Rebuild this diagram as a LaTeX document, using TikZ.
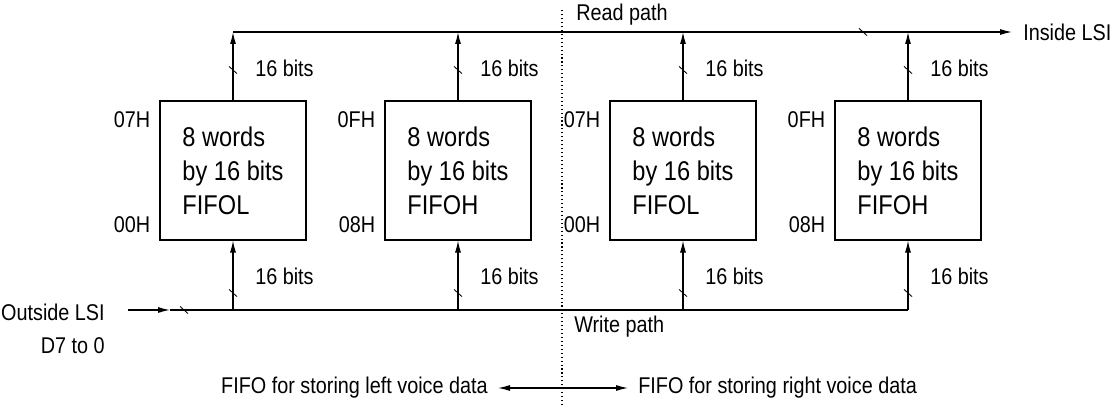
\documentclass[tikz,border=0pt]{standalone}
\usepackage{fontspec}
\setmainfont{Liberation Sans}[FakeStretch=0.87]
\usetikzlibrary{arrows.meta,positioning}

\tikzset{
  fifo/.style={draw, line width=0.8pt, minimum width=3.65cm, minimum height=3.475cm, align=left, inner sep=0pt, font=\fontsize{19.3}{24.2}\selectfont},
  lbl/.style={inner sep=0pt, font=\fontsize{16.2}{18}\selectfont},
  bus/.style={line width=0.8pt, -{Latex[length=3mm,width=1.5mm]}},
}
\newcommand{\busmark}[1]{\draw[line width=0.6pt] (#1) ++(-0.1,0.09) -- ++(0.2,-0.18);}

\begin{document}
\begin{tikzpicture}
  \useasboundingbox (0,0) rectangle (27.95,10.125);

  \node[fifo] (fifoLa) at (5.825,5.8625) {8 words\\by 16 bits\\FIFOL};
  \node[fifo] (fifoHa) at (11.45,5.8625) {8 words\\by 16 bits\\FIFOH};
  \node[fifo] (fifoLb) at (17.075,5.8625) {8 words\\by 16 bits\\FIFOL};
  \node[fifo] (fifoHb) at (22.7,5.8625) {8 words\\by 16 bits\\FIFOH};

  % addresses
  \node[lbl, anchor=east] (topLa) at ([xshift=-0.225cm,yshift=-0.475cm]fifoLa.north west) {07H};
  \node[lbl, anchor=east] (botLa) at ([xshift=-0.225cm,yshift=0.4cm]fifoLa.south west) {00H};
  \node[lbl, anchor=east] (topHa) at ([xshift=-0.225cm,yshift=-0.475cm]fifoHa.north west) {0FH};
  \node[lbl, anchor=east] (botHa) at ([xshift=-0.225cm,yshift=0.4cm]fifoHa.south west) {08H};
  \node[lbl, anchor=east] (topLb) at ([xshift=-0.225cm,yshift=-0.475cm]fifoLb.north west) {07H};
  \node[lbl, anchor=east] (botLb) at ([xshift=-0.225cm,yshift=0.4cm]fifoLb.south west) {00H};
  \node[lbl, anchor=east] (topHb) at ([xshift=-0.225cm,yshift=-0.475cm]fifoHb.north west) {0FH};
  \node[lbl, anchor=east] (botHb) at ([xshift=-0.225cm,yshift=0.4cm]fifoHb.south west) {08H};

  % read path
  \coordinate (readStart) at (5.825,9.325);
  \coordinate (readEnd) at (25.3,9.325);
  \node[lbl, right=0.275cm of readEnd] (inside) {Inside LSI};
  \draw[bus] (readStart) -- (readEnd);
  \node[lbl, anchor=west] (readLabel) at (14.4,9.75) {Read path};

  \draw[bus] (fifoLa.north) -- (fifoLa.north |- readStart);
  \draw[bus] (fifoHa.north) -- (fifoHa.north |- readStart);
  \draw[bus] (fifoLb.north) -- (fifoLb.north |- readStart);
  \draw[bus] (fifoHb.north) -- (fifoHb.north |- readStart);

  \node[lbl, anchor=west] (upLa) at (6.375,8.425) {16 bits};
  \node[lbl, anchor=west] (upHa) at (12.0,8.425) {16 bits};
  \node[lbl, anchor=west] (upLb) at (17.625,8.425) {16 bits};
  \node[lbl, anchor=west] (upHb) at (23.25,8.425) {16 bits};

  % write path
  \node[lbl, anchor=east] (outside) at (2.625,2.325) {Outside LSI};
  \node[lbl, anchor=east] (dataBits) at (2.625,1.475) {D7 to 0};
  \coordinate (writeStart) at (3.2,2.375);
  \coordinate (writeTip) at (4.25,2.375);
  \coordinate (writeEnd) at (22.7,2.375);
  \draw[bus] (writeStart) -- (writeTip);
  \draw[line width=0.8pt] (writeTip) -- (writeEnd);
  \node[lbl, anchor=west] (writeLabel) at (14.35,1.95) {Write path};

  \draw[bus] (fifoLa.south |- writeStart) -- (fifoLa.south);
  \draw[bus] (fifoHa.south |- writeStart) -- (fifoHa.south);
  \draw[bus] (fifoLb.south |- writeStart) -- (fifoLb.south);
  \draw[bus] (fifoHb.south |- writeStart) -- (fifoHb.south);

  \node[lbl, anchor=west] (downLa) at (6.375,3.225) {16 bits};
  \node[lbl, anchor=west] (downHa) at (12.0,3.225) {16 bits};
  \node[lbl, anchor=west] (downLb) at (17.625,3.225) {16 bits};
  \node[lbl, anchor=west] (downHb) at (23.25,3.225) {16 bits};

  % bus width marks
  \busmark{5.825,8.375}
  \busmark{11.45,8.375}
  \busmark{17.075,8.375}
  \busmark{22.7,8.375}
  \busmark{5.825,2.8}
  \busmark{11.45,2.8}
  \busmark{17.075,2.8}
  \busmark{22.7,2.8}
  \busmark{21.575,9.325}
  \busmark{4.6,2.375}

  % left / right split
  \draw[dotted, line width=0.8pt] (14.05,0) -- (14.05,9.925);
  \node[lbl, anchor=east] (leftVoice) at (12.2,0.425) {FIFO for storing left voice data};
  \node[lbl, anchor=west] (rightVoice) at (15.95,0.425) {FIFO for storing right voice data};
  \draw[line width=0.8pt, {Latex[length=3mm,width=1.5mm]}-{Latex[length=3mm,width=1.5mm]}] ([xshift=0.25cm]leftVoice.east) -- ([xshift=-0.25cm]rightVoice.west);

\end{tikzpicture}
\end{document}
